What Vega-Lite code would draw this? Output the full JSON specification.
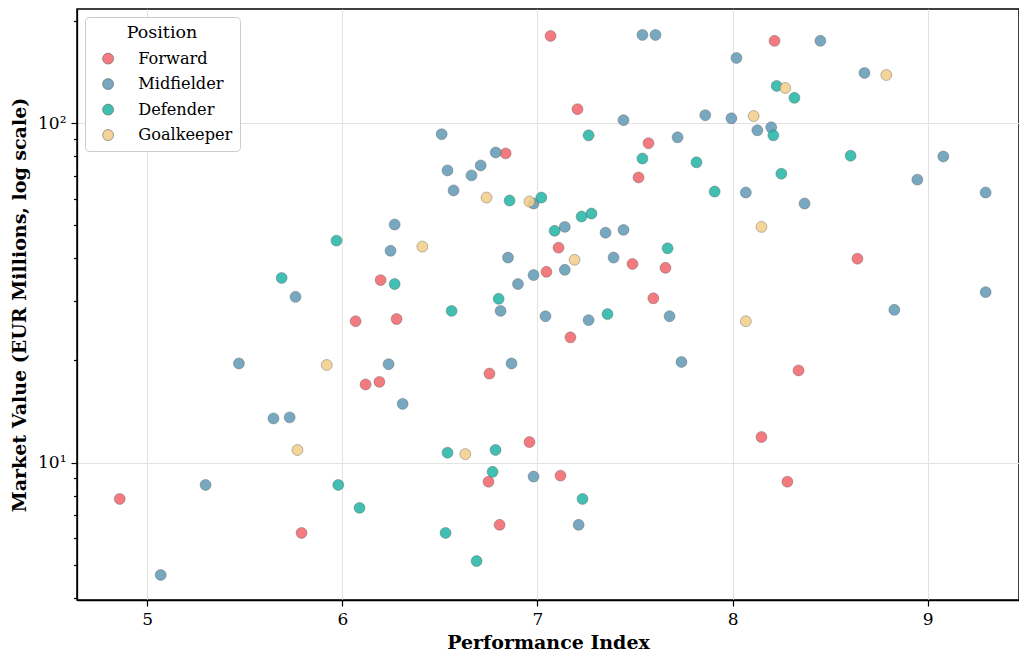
{
  "$schema": "https://vega.github.io/schema/vega-lite/v6.json",
  "width": 942,
  "height": 591,
  "autosize": "none",
  "padding": {"left": 77, "top": 9, "right": 0, "bottom": 54},
  "background": "white",
  "config": {
    "font": "DejaVu Serif",
    "view": {"stroke": "black", "strokeWidth": 1.5},
    "axis": {
      "labelFont": "DejaVu Serif",
      "titleFont": "DejaVu Serif",
      "labelColor": "black",
      "titleColor": "black",
      "domainColor": "black",
      "domainWidth": 1.3,
      "tickColor": "black",
      "tickWidth": 1.2,
      "gridColor": "#e3e3e3",
      "gridWidth": 1.1
    },
    "legend": {"labelFont": "DejaVu Serif", "titleFont": "DejaVu Serif"}
  },
  "data": {
    "values": [
      {"perf": 7.067, "value": 180.8, "position": "Forward"},
      {"perf": 8.215, "value": 174.9, "position": "Forward"},
      {"perf": 7.205, "value": 110.0, "position": "Forward"},
      {"perf": 6.837, "value": 81.5, "position": "Forward"},
      {"perf": 7.569, "value": 87.3, "position": "Forward"},
      {"perf": 7.518, "value": 69.2, "position": "Forward"},
      {"perf": 7.108, "value": 43.0, "position": "Forward"},
      {"perf": 7.046, "value": 36.5, "position": "Forward"},
      {"perf": 7.487, "value": 38.5, "position": "Forward"},
      {"perf": 7.656, "value": 37.5, "position": "Forward"},
      {"perf": 7.594, "value": 30.5, "position": "Forward"},
      {"perf": 7.169, "value": 23.4, "position": "Forward"},
      {"perf": 6.196, "value": 34.5, "position": "Forward"},
      {"perf": 6.068, "value": 26.1, "position": "Forward"},
      {"perf": 6.278, "value": 26.5, "position": "Forward"},
      {"perf": 6.119, "value": 17.0, "position": "Forward"},
      {"perf": 6.19, "value": 17.3, "position": "Forward"},
      {"perf": 6.754, "value": 18.3, "position": "Forward"},
      {"perf": 6.959, "value": 11.5, "position": "Forward"},
      {"perf": 7.118, "value": 9.16, "position": "Forward"},
      {"perf": 6.749, "value": 8.79, "position": "Forward"},
      {"perf": 6.806, "value": 6.56, "position": "Forward"},
      {"perf": 4.859, "value": 7.82, "position": "Forward"},
      {"perf": 5.791, "value": 6.21, "position": "Forward"},
      {"perf": 8.64, "value": 39.9, "position": "Forward"},
      {"perf": 8.338, "value": 18.7, "position": "Forward"},
      {"perf": 8.148, "value": 11.9, "position": "Forward"},
      {"perf": 8.281, "value": 8.79, "position": "Forward"},

      {"perf": 7.538, "value": 182.0, "position": "Midfielder"},
      {"perf": 7.605, "value": 182.0, "position": "Midfielder"},
      {"perf": 7.441, "value": 102.1, "position": "Midfielder"},
      {"perf": 7.718, "value": 90.9, "position": "Midfielder"},
      {"perf": 6.509, "value": 92.8, "position": "Midfielder"},
      {"perf": 6.786, "value": 82.0, "position": "Midfielder"},
      {"perf": 6.539, "value": 72.6, "position": "Midfielder"},
      {"perf": 6.709, "value": 75.1, "position": "Midfielder"},
      {"perf": 6.662, "value": 70.2, "position": "Midfielder"},
      {"perf": 6.57, "value": 63.4, "position": "Midfielder"},
      {"perf": 6.98, "value": 58.0, "position": "Midfielder"},
      {"perf": 8.45, "value": 174.9, "position": "Midfielder"},
      {"perf": 8.02, "value": 155.7, "position": "Midfielder"},
      {"perf": 8.676, "value": 140.6, "position": "Midfielder"},
      {"perf": 7.86, "value": 105.6, "position": "Midfielder"},
      {"perf": 7.994, "value": 103.4, "position": "Midfielder"},
      {"perf": 8.127, "value": 95.3, "position": "Midfielder"},
      {"perf": 8.198, "value": 97.3, "position": "Midfielder"},
      {"perf": 9.08, "value": 79.8, "position": "Midfielder"},
      {"perf": 8.947, "value": 68.2, "position": "Midfielder"},
      {"perf": 8.068, "value": 62.5, "position": "Midfielder"},
      {"perf": 8.369, "value": 58.0, "position": "Midfielder"},
      {"perf": 9.297, "value": 62.5, "position": "Midfielder"},
      {"perf": 6.268, "value": 50.3, "position": "Midfielder"},
      {"perf": 6.247, "value": 42.1, "position": "Midfielder"},
      {"perf": 6.849, "value": 40.2, "position": "Midfielder"},
      {"perf": 6.98, "value": 35.7, "position": "Midfielder"},
      {"perf": 6.9, "value": 33.6, "position": "Midfielder"},
      {"perf": 7.14, "value": 49.5, "position": "Midfielder"},
      {"perf": 7.349, "value": 47.6, "position": "Midfielder"},
      {"perf": 7.441, "value": 48.5, "position": "Midfielder"},
      {"perf": 7.39, "value": 40.2, "position": "Midfielder"},
      {"perf": 7.14, "value": 37.0, "position": "Midfielder"},
      {"perf": 6.811, "value": 28.0, "position": "Midfielder"},
      {"perf": 7.041, "value": 27.0, "position": "Midfielder"},
      {"perf": 7.262, "value": 26.3, "position": "Midfielder"},
      {"perf": 7.677, "value": 27.0, "position": "Midfielder"},
      {"perf": 5.76, "value": 30.8, "position": "Midfielder"},
      {"perf": 5.47, "value": 19.6, "position": "Midfielder"},
      {"perf": 6.237, "value": 19.5, "position": "Midfielder"},
      {"perf": 6.867, "value": 19.6, "position": "Midfielder"},
      {"perf": 7.738, "value": 19.8, "position": "Midfielder"},
      {"perf": 6.309, "value": 14.9, "position": "Midfielder"},
      {"perf": 5.647, "value": 13.5, "position": "Midfielder"},
      {"perf": 5.73, "value": 13.6, "position": "Midfielder"},
      {"perf": 5.299, "value": 8.6, "position": "Midfielder"},
      {"perf": 5.069, "value": 4.67, "position": "Midfielder"},
      {"perf": 6.98, "value": 9.1, "position": "Midfielder"},
      {"perf": 7.211, "value": 6.56, "position": "Midfielder"},
      {"perf": 9.297, "value": 31.8, "position": "Midfielder"},
      {"perf": 8.829, "value": 28.2, "position": "Midfielder"},

      {"perf": 7.262, "value": 92.1, "position": "Defender"},
      {"perf": 7.538, "value": 78.7, "position": "Defender"},
      {"perf": 7.815, "value": 76.7, "position": "Defender"},
      {"perf": 6.857, "value": 59.2, "position": "Defender"},
      {"perf": 7.02, "value": 60.4, "position": "Defender"},
      {"perf": 7.226, "value": 53.1, "position": "Defender"},
      {"perf": 7.277, "value": 54.2, "position": "Defender"},
      {"perf": 8.226, "value": 128.8, "position": "Defender"},
      {"perf": 8.317, "value": 118.8, "position": "Defender"},
      {"perf": 8.209, "value": 92.1, "position": "Defender"},
      {"perf": 8.605, "value": 80.2, "position": "Defender"},
      {"perf": 8.25, "value": 71.0, "position": "Defender"},
      {"perf": 7.908, "value": 62.9, "position": "Defender"},
      {"perf": 7.088, "value": 48.2, "position": "Defender"},
      {"perf": 7.667, "value": 42.8, "position": "Defender"},
      {"perf": 6.268, "value": 33.6, "position": "Defender"},
      {"perf": 6.801, "value": 30.4, "position": "Defender"},
      {"perf": 6.56, "value": 28.0, "position": "Defender"},
      {"perf": 7.359, "value": 27.4, "position": "Defender"},
      {"perf": 5.97, "value": 45.1, "position": "Defender"},
      {"perf": 5.689, "value": 35.0, "position": "Defender"},
      {"perf": 5.979, "value": 8.6, "position": "Defender"},
      {"perf": 6.088, "value": 7.36, "position": "Defender"},
      {"perf": 6.539, "value": 10.7, "position": "Defender"},
      {"perf": 6.785, "value": 10.9, "position": "Defender"},
      {"perf": 6.77, "value": 9.4, "position": "Defender"},
      {"perf": 7.231, "value": 7.82, "position": "Defender"},
      {"perf": 6.529, "value": 6.21, "position": "Defender"},
      {"perf": 6.688, "value": 5.13, "position": "Defender"},

      {"perf": 6.739, "value": 60.4, "position": "Goalkeeper"},
      {"perf": 6.959, "value": 58.8, "position": "Goalkeeper"},
      {"perf": 8.27, "value": 127.0, "position": "Goalkeeper"},
      {"perf": 8.788, "value": 138.7, "position": "Goalkeeper"},
      {"perf": 8.108, "value": 105.0, "position": "Goalkeeper"},
      {"perf": 6.41, "value": 43.3, "position": "Goalkeeper"},
      {"perf": 7.19, "value": 39.6, "position": "Goalkeeper"},
      {"perf": 8.148, "value": 49.5, "position": "Goalkeeper"},
      {"perf": 8.068, "value": 26.1, "position": "Goalkeeper"},
      {"perf": 5.92, "value": 19.4, "position": "Goalkeeper"},
      {"perf": 5.77, "value": 10.9, "position": "Goalkeeper"},
      {"perf": 6.63, "value": 10.6, "position": "Goalkeeper"}
    ]
  },
  "mark": {
    "type": "circle",
    "size": 120,
    "opacity": 0.88,
    "stroke": "#4a4a4a",
    "strokeWidth": 0.6,
    "strokeOpacity": 0.7
  },
  "encoding": {
    "x": {
      "field": "perf",
      "type": "quantitative",
      "scale": {"domain": [4.64, 9.468], "nice": false, "zero": false},
      "axis": {
        "title": "Performance Index",
        "values": [5, 6, 7, 8, 9],
        "format": "d",
        "labelFontSize": 17,
        "labelPadding": 5,
        "tickSize": 6,
        "titleFontSize": 19,
        "titleFontWeight": "bold",
        "titlePadding": 6,
        "grid": true
      }
    },
    "y": {
      "field": "value",
      "type": "quantitative",
      "scale": {"type": "log", "domain": [3.94, 217], "nice": false},
      "axis": {
        "title": "Market Value (EUR Millions, log scale)",
        "values": [4, 5, 6, 7, 8, 9, 10, 20, 30, 40, 50, 60, 70, 80, 90, 100, 200],
        "labelExpr": "datum.value == 10 ? '10¹' : (datum.value == 100 ? '10²' : '')",
        "labelFontSize": 17,
        "labelPadding": 5,
        "tickSize": {"condition": {"test": "datum.value == 10 || datum.value == 100", "value": 6}, "value": 3.5},
        "gridOpacity": {"condition": {"test": "datum.value == 10 || datum.value == 100", "value": 1}, "value": 0},
        "titleFontSize": 19,
        "titleFontWeight": "bold",
        "titlePadding": 8,
        "grid": true
      }
    },
    "color": {
      "field": "position",
      "type": "nominal",
      "sort": ["Forward", "Midfielder", "Defender", "Goalkeeper"],
      "scale": {
        "domain": ["Forward", "Midfielder", "Defender", "Goalkeeper"],
        "range": ["#F2686E", "#659DB8", "#27B7A9", "#F3D08B"]
      },
      "legend": {
        "title": "Position",
        "orient": "top-left",
        "offset": 8,
        "padding": 7,
        "titleFontSize": 17.5,
        "titleFontWeight": "normal",
        "titleAnchor": "middle",
        "titlePadding": 9,
        "labelFontSize": 16.2,
        "labelOffset": 22,
        "symbolType": "circle",
        "symbolSize": 120,
        "symbolOffset": 8,
        "symbolStrokeWidth": 0.6,
        "rowPadding": 8.5,
        "strokeColor": "#cccccc",
        "fillColor": "white",
        "cornerRadius": 4
      }
    }
  }
}
